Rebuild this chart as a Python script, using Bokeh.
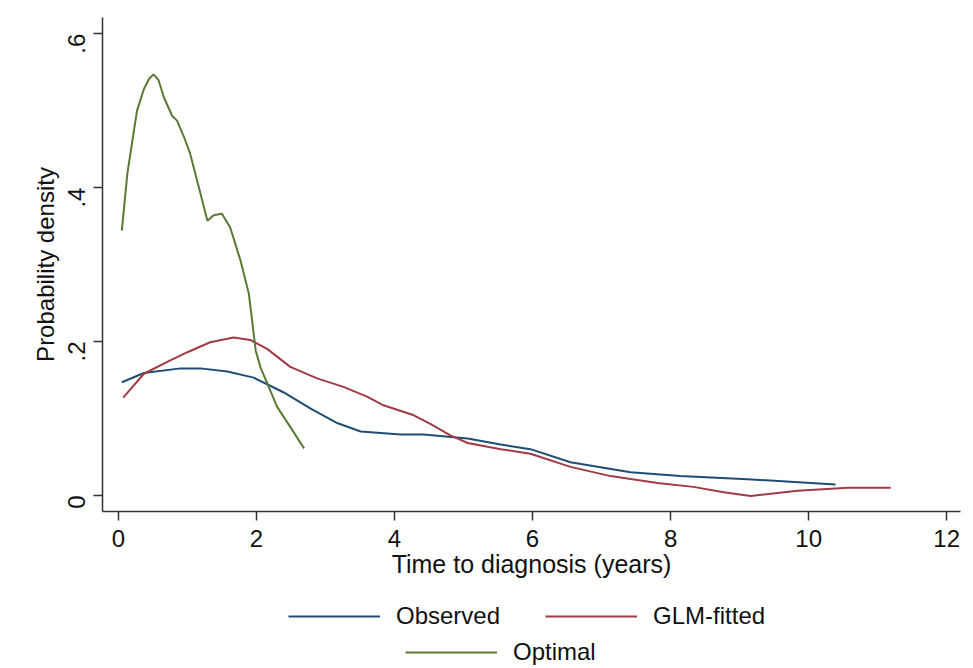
from bokeh.plotting import figure
from bokeh.models import Range1d, FixedTicker, Legend, LegendItem
from bokeh.layouts import column
from bokeh.embed import file_html
from bokeh.resources import INLINE
import math

# Data
obs_x = [0.05, 0.37, 0.9, 1.19, 1.58, 1.96, 2.39, 2.78, 3.17, 3.51, 4.09, 4.42, 5.06, 5.54, 5.97, 6.55, 7.42, 8.14, 9.11, 10.39]
obs_y = [0.147, 0.159, 0.165, 0.165, 0.161, 0.153, 0.134, 0.113, 0.094, 0.083, 0.079, 0.079, 0.074, 0.066, 0.060, 0.043, 0.030, 0.025, 0.021, 0.014]

glm_x = [0.07, 0.37, 0.7, 1.0, 1.33, 1.67, 1.91, 2.16, 2.49, 2.88, 3.26, 3.61, 3.84, 4.28, 4.52, 4.81, 5.06, 5.54, 5.97, 6.55, 7.13, 7.81, 8.33, 8.77, 9.16, 9.84, 10.57, 11.19]
glm_y = [0.127, 0.158, 0.173, 0.186, 0.199, 0.205, 0.202, 0.190, 0.167, 0.152, 0.141, 0.128, 0.117, 0.104, 0.093, 0.078, 0.068, 0.060, 0.054, 0.037, 0.025, 0.016, 0.011, 0.004, -0.001, 0.006, 0.010, 0.010]

opt_x = [0.05, 0.13, 0.27, 0.37, 0.45, 0.51, 0.58, 0.66, 0.78, 0.85, 0.95, 1.04, 1.19, 1.29, 1.38, 1.5, 1.62, 1.77, 1.89, 1.99, 2.06, 2.16, 2.3, 2.49, 2.69]
opt_y = [0.344, 0.418, 0.500, 0.528, 0.542, 0.547, 0.540, 0.517, 0.493, 0.487, 0.466, 0.444, 0.392, 0.357, 0.364, 0.366, 0.348, 0.305, 0.262, 0.188, 0.166, 0.145, 0.115, 0.089, 0.061]

series_names = ["Observed", "GLM-fitted", "Optimal"]
series_colors = ["#1f4e75", "#a03a45", "#5a7a34"]

x_ticks = [0, 2, 4, 6, 8, 10, 12]
y_ticks = [0, 0.2, 0.4, 0.6]
y_tick_labels = {0: "0", 0.2: ".2", 0.4: ".4", 0.6: ".6"}

FONT = "Liberation Sans"
AX = "#333333"

p = figure(frame_width=858, frame_height=494, output_backend="svg", toolbar_location=None,
           x_range=Range1d(-0.23, 12.2), y_range=Range1d(-0.021, 0.621),
           min_border_left=102, min_border_right=13, min_border_top=17, min_border_bottom=80)
p.outline_line_color = None
p.grid.visible = False
p.background_fill_color = "white"

all_x = [obs_x, glm_x, opt_x]
all_y = [obs_y, glm_y, opt_y]
for xs, ys, c in zip(all_x, all_y, series_colors):
    p.line(xs, ys, line_color=c, line_width=2)

for ax in (p.xaxis[0], p.yaxis[0]):
    ax.axis_line_color = AX
    ax.axis_line_width = 1.5
    ax.major_tick_line_color = AX
    ax.major_tick_line_width = 1.5
    ax.major_tick_out = 9
    ax.major_tick_in = 0
    ax.minor_tick_line_color = None
    ax.major_label_text_font = FONT
    ax.major_label_text_font_size = "24px"
    ax.major_label_text_color = "#111111"
    ax.axis_label_text_font = FONT
    ax.axis_label_text_font_style = "normal"
    ax.axis_label_text_color = "#111111"

p.xaxis[0].ticker = FixedTicker(ticks=x_ticks)
p.xaxis[0].axis_label = "Time to diagnosis (years)"
p.xaxis[0].axis_label_text_font_size = "25px"
p.xaxis[0].major_label_standoff = 9
p.xaxis[0].axis_label_standoff = 0

p.yaxis[0].ticker = FixedTicker(ticks=y_ticks)
p.yaxis[0].major_label_overrides = y_tick_labels
p.yaxis[0].major_label_orientation = math.pi / 2
p.yaxis[0].axis_label = "Probability density"
p.yaxis[0].axis_label_text_font_size = "24px"
p.yaxis[0].major_label_standoff = 17
p.yaxis[0].axis_label_standoff = -2

# Legend panel below the plot (its lines lie outside its view; only the legend shows)
lp = figure(width=973, height=77, output_backend="svg", toolbar_location=None,
            x_axis_type=None, y_axis_type=None,
            x_range=Range1d(0, 1), y_range=Range1d(5, 6),
            min_border=0, min_border_left=0, min_border_right=0, min_border_top=0, min_border_bottom=0)
lp.outline_line_color = None
leg_r = [lp.line(xs, ys, line_color=c, line_width=2) for xs, ys, c in zip(all_x, all_y, series_colors)]

def mk_legend(items, loc):
    return Legend(items=items, orientation="horizontal", location=loc,
                  glyph_width=92, glyph_height=28, label_standoff=16, spacing=45,
                  label_text_font=FONT, label_text_font_size="24px", label_text_color="#111111",
                  border_line_color=None, background_fill_alpha=0, padding=2, margin=0)

lg1 = mk_legend([LegendItem(label=series_names[0], renderers=[leg_r[0]]),
                 LegendItem(label=series_names[1], renderers=[leg_r[1]])], (186, 38))
lg2 = mk_legend([LegendItem(label=series_names[2], renderers=[leg_r[2]])], (303, 2))
lp.add_layout(lg1, "center")
lp.add_layout(lg2, "center")

layout = column(p, lp, spacing=0)
open("out.html", "w").write(file_html(layout, INLINE))
